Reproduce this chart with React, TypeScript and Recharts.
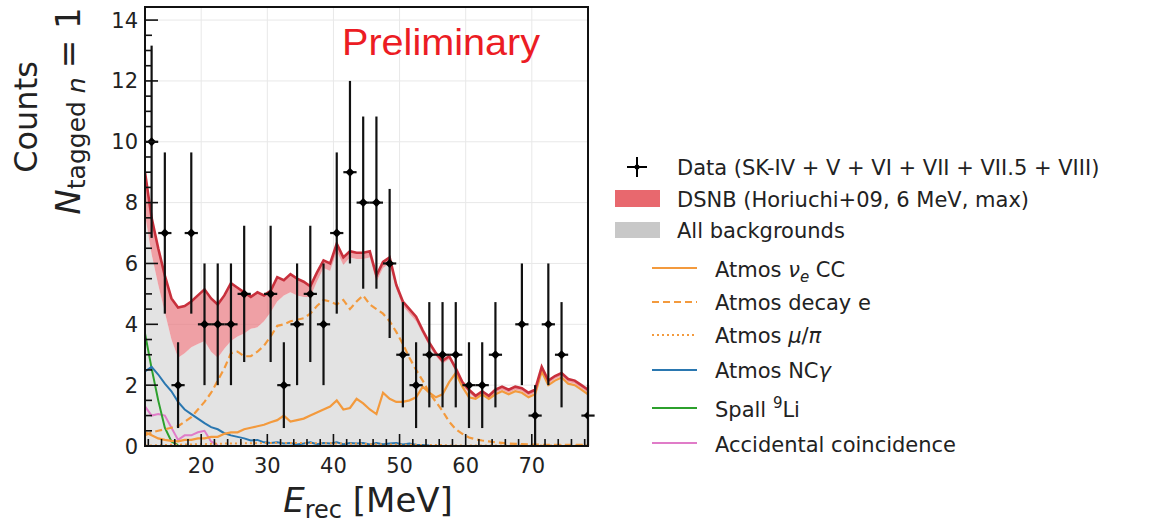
import React from 'react';
import { ComposedChart, Area, Line, Scatter, ErrorBar, XAxis, YAxis, CartesianGrid, ReferenceArea } from 'recharts';

// reconstructed energy (MeV), 1 MeV steps for the expectation curves
const ENERGY = [
  11.5, 12.5, 13.5, 14.5, 15.5, 16.5, 17.5, 18.5, 19.5, 20.5,
  21.5, 22.5, 23.5, 24.5, 25.5, 26.5, 27.5, 28.5, 29.5, 30.5,
  31.5, 32.5, 33.5, 34.5, 35.5, 36.5, 37.5, 38.5, 39.5, 40.5,
  41.5, 42.5, 43.5, 44.5, 45.5, 46.5, 47.5, 48.5, 49.5, 50.5,
  51.5, 52.5, 53.5, 54.5, 55.5, 56.5, 57.5, 58.5, 59.5, 60.5,
  61.5, 62.5, 63.5, 64.5, 65.5, 66.5, 67.5, 68.5, 69.5, 70.5,
  71.5, 72.5, 73.5, 74.5, 75.5, 76.5, 77.5, 78.5,
];

// backgrounds + DSNB (top of red band)
const TOTAL = [
  9.0, 7.5, 6.5, 5.6, 4.85, 4.55, 4.6, 4.75, 4.95, 5.15,
  4.85, 4.65, 4.95, 5.35, 5.2, 5.05, 4.9, 5.05, 4.95, 5.1,
  5.55, 5.45, 5.65, 5.5, 5.4, 5.25, 5.7, 6.1, 6.0, 6.65,
  6.2, 6.4, 6.35, 6.35, 6.4, 5.6, 6.05, 6.2, 5.3, 4.75,
  4.5, 4.25, 3.8, 3.4, 3.05, 2.8, 2.95, 2.55, 2.1, 1.85,
  1.65, 1.8, 1.65, 1.85, 1.95, 1.85, 1.95, 1.9, 1.75, 1.85,
  2.6, 2.15, 2.3, 2.4, 2.2, 2.15, 2.0, 1.85,
];

// all backgrounds (grey area)
const BKG = [
  7.6, 6.3, 5.3, 4.4, 3.5, 2.9, 3.05, 3.25, 3.35, 3.45,
  3.1, 2.9, 3.2, 3.45, 3.6, 3.7, 3.85, 3.9, 4.1, 4.4,
  4.75, 4.95, 5.05, 4.95, 4.9, 4.9, 5.4, 5.85, 5.75, 6.4,
  5.95, 6.2, 6.15, 6.15, 6.2, 5.4, 5.85, 6.0, 5.15, 4.6,
  4.35, 4.1, 3.68, 3.28, 2.95, 2.7, 2.85, 2.45, 2.0, 1.75,
  1.55, 1.7, 1.55, 1.75, 1.85, 1.75, 1.85, 1.8, 1.65, 1.75,
  2.5, 2.05, 2.2, 2.3, 2.1, 2.05, 1.9, 1.75,
];

const NUE_CC = [
  0.45, 0.35, 0.25, 0.2, 0.17, 0.15, 0.2, 0.2, 0.25, 0.25,
  0.3, 0.3, 0.4, 0.45, 0.45, 0.55, 0.6, 0.65, 0.7, 0.78,
  0.85, 1.0, 0.8, 0.85, 0.9, 1.0, 1.1, 1.2, 1.3, 1.5,
  1.2, 1.25, 1.55, 1.4, 1.2, 1.05, 1.75, 1.55, 1.45, 1.45,
  1.5, 1.6, 1.95, 1.75, 1.6, 1.7, 2.1, 2.4, 1.95, 1.6,
  1.55, 1.7, 1.55, 1.7, 1.8, 1.7, 1.8, 1.75, 1.6, 1.7,
  2.45, 2.0, 2.15, 2.25, 2.05, 2.0, 1.85, 1.7,
];

const DECAY_E = [
  0.35, 0.45, 0.5, 0.55, 0.6, 0.65, 0.8, 0.95, 1.2, 1.45,
  1.75, 2.15, 2.55, 3.05, 3.1, 2.95, 2.95, 3.1, 3.3, 3.6,
  3.95, 4.0, 4.1, 4.15, 4.2, 4.35, 4.6, 4.8, 4.75, 4.65,
  4.8, 4.5, 4.75, 4.95, 4.65, 4.5, 4.35, 4.1, 3.75, 3.35,
  2.9, 2.5, 2.15, 1.75, 1.45, 1.15, 0.8, 0.55, 0.4, 0.28,
  0.22, 0.18, 0.15, 0.12, 0.1, 0.08, 0.07, 0.06, 0.05, 0.05,
  0.04, 0.04, 0.04, 0.04, 0.04, 0.04, 0.04, 0.04,
];

const MU_PI = [
  0.02, 0.02, 0.03, 0.03, 0.04, 0.04, 0.05, 0.05, 0.06, 0.06,
  0.07, 0.07, 0.08, 0.08, 0.08, 0.09, 0.09, 0.09, 0.1, 0.1,
  0.1, 0.1, 0.1, 0.1, 0.1, 0.1, 0.09, 0.09, 0.09, 0.08,
  0.08, 0.08, 0.07, 0.07, 0.06, 0.06, 0.05, 0.05, 0.05, 0.04,
  0.04, 0.04, 0.03, 0.03, 0.03, 0.03, 0.02, 0.02, 0.02, 0.02,
  0.02, 0.02, 0.02, 0.02, 0.02, 0.02, 0.02, 0.02, 0.02, 0.02,
  0.02, 0.02, 0.02, 0.02, 0.02, 0.02, 0.02, 0.02,
];

const NC_GAMMA = [
  2.45, 2.6, 2.35, 2.05, 1.8, 1.45, 1.2, 1.05, 0.9, 0.75,
  0.62, 0.55, 0.42, 0.35, 0.3, 0.25, 0.18, 0.2, 0.12, 0.1,
  0.12, 0.08, 0.1, 0.05, 0.08, 0.12, 0.06, 0.1, 0.08, 0.12,
  0.06, 0.1, 0.08, 0.1, 0.05, 0.1, 0.06, 0.08, 0.1, 0.05,
  0.08, 0.04, 0.03, 0.02,
];

const SPALL_LI = [3.7, 2.55, 1.5, 0.6, 0.15, 0.03];

const ACCIDENTAL = [1.3, 1.0, 1.05, 1.0, 0.6, 0.2, 0.35, 0.35, 0.45, 0.5, 0.15, 0.03];

// observed events, 2 MeV bins
const DATA_E = [
  12.5, 14.5, 16.5, 18.5, 20.5, 22.5, 24.5, 26.5, 28.5, 30.5,
  32.5, 34.5, 36.5, 38.5, 40.5, 42.5, 44.5, 46.5, 48.5, 50.5,
  52.5, 54.5, 56.5, 58.5, 60.5, 62.5, 64.5, 66.5, 68.5, 70.5,
  72.5, 74.5, 76.5, 78.5,
];
const COUNTS = [
  10, 7, 2, 7, 4, 4, 4, 5, 0, 5,
  2, 4, 5, 4, 7, 9, 8, 8, 6, 3,
  2, 3, 3, 3, 2, 2, 3, 0, 4, 1,
  4, 3, 0, 1,
];
const COUNT_ERR = [
  3.16, 2.65, 1.41, 2.65, 2, 2, 2, 2.24, 0, 2.24,
  1.41, 2, 2.24, 2, 2.65, 3, 2.83, 2.83, 2.45, 1.73,
  1.41, 1.73, 1.73, 1.73, 1.41, 1.41, 1.73, 0, 2, 1,
  2, 1.73, 0, 1,
];
const BIN_HALF = 1;

const X_DOMAIN = [11.5, 78.5];
const Y_DOMAIN = [0, 14.43];
const X_TICKS = [
  12, 14, 16, 18, 20, 22, 24, 26, 28, 30, 32, 34, 36, 38, 40, 42, 44,
  46, 48, 50, 52, 54, 56, 58, 60, 62, 64, 66, 68, 70, 72, 74, 76, 78,
];
const Y_TICKS = [
  0, 0.5, 1, 1.5, 2, 2.5, 3, 3.5, 4, 4.5, 5, 5.5, 6, 6.5, 7, 7.5, 8,
  8.5, 9, 9.5, 10, 10.5, 11, 11.5, 12, 12.5, 13, 13.5, 14,
];
const X_GRID = [20, 30, 40, 50, 60, 70];
const Y_GRID = [2, 4, 6, 8, 10, 12, 14];

const rows = ENERGY.map((e, i) => ({
  e,
  total: TOTAL[i],
  bkg: BKG[i],
  band: [BKG[i], TOTAL[i]],
  nue: NUE_CC[i],
  decay: DECAY_E[i],
  mupi: MU_PI[i],
  nc: NC_GAMMA[i] ?? null,
  spall: SPALL_LI[i] ?? null,
  acc: ACCIDENTAL[i] ?? null,
}));

const points = DATA_E.map((e, i) => ({ e, count: COUNTS[i], err: COUNT_ERR[i], xerr: BIN_HALF })).filter(
  (p) => p.count > 0
);

const FONT = 'DejaVu Sans, Verdana, sans-serif';
const ORANGE = '#f39a3d';
const BLUE = '#2a77b0';
const GREEN = '#2ca02c';
const PINK = '#e07cc8';
const RED = '#c8303c';

const XTick = (props: any) => {
  const { x, y, payload } = props;
  const v = payload.value;
  const major = v % 10 === 0;
  return (
    <g>
      <line x1={x} x2={x} y1={y} y2={y - (major ? 12 : 7)} stroke="#111" strokeWidth={1.6} />
      {major && (
        <text x={x} y={y + 27} textAnchor="middle" fontSize={21} fontFamily={FONT} fill="#222">
          {v}
        </text>
      )}
    </g>
  );
};

const YTick = (props: any) => {
  const { x, y, payload } = props;
  const v = payload.value;
  const major = v % 2 === 0;
  return (
    <g>
      <line x1={x} x2={x + (major ? 13 : 7)} y1={y} y2={y} stroke="#111" strokeWidth={1.6} />
      {major && (
        <text x={x - 7} y={y + 7.5} textAnchor="end" fontSize={21} fontFamily={FONT} fill="#222">
          {v}
        </text>
      )}
    </g>
  );
};

const Diamond = (props: any) => {
  const { cx, cy } = props;
  if (cx == null || cy == null) return null;
  const r = 4.5;
  return <polygon points={`${cx},${cy - r} ${cx + r},${cy} ${cx},${cy + r} ${cx - r},${cy}`} fill="#000" />;
};

const LegendBox = () => {
  const lineX1 = 652;
  const lineX2 = 697;
  const textX = 715;
  return (
    <g fontFamily={FONT} fontSize={21} fill="#222">
      {/* data */}
      <line x1={637} x2={637} y1={157} y2={177} stroke="#000" strokeWidth={2} />
      <line x1={627} x2={647} y1={167} y2={167} stroke="#000" strokeWidth={2} />
      <circle cx={637} cy={167} r={2.5} fill="#000" />
      <text x={677} y={175}>Data (SK-IV + V + VI + VII + VII.5 + VIII)</text>

      <rect x={615} y={190} width={45} height={17} fill="#e8686e" />
      <text x={677} y={207}>DSNB (Horiuchi+09, 6 MeV, max)</text>

      <rect x={615} y={222} width={45} height={16} fill="#c8c8c8" />
      <text x={677} y={238}>All backgrounds</text>

      <line x1={lineX1} x2={lineX2} y1={268} y2={268} stroke={ORANGE} strokeWidth={2} />
      <text x={textX} y={277}>
        Atmos <tspan fontStyle="italic">ν</tspan>
        <tspan fontStyle="italic" fontSize={15} dy={5}>e</tspan>
        <tspan dy={-5}> CC</tspan>
      </text>

      <line x1={lineX1} x2={lineX2} y1={302} y2={302} stroke={ORANGE} strokeWidth={2} strokeDasharray="7 4" />
      <text x={textX} y={310}>Atmos decay e</text>

      <line x1={lineX1} x2={lineX2} y1={335} y2={335} stroke={ORANGE} strokeWidth={2} strokeDasharray="2 3" />
      <text x={textX} y={343}>
        Atmos <tspan fontStyle="italic">μ</tspan>/<tspan fontStyle="italic">π</tspan>
      </text>

      <line x1={lineX1} x2={lineX2} y1={370} y2={370} stroke={BLUE} strokeWidth={2} />
      <text x={textX} y={378}>
        Atmos NC<tspan fontStyle="italic">γ</tspan>
      </text>

      <line x1={lineX1} x2={lineX2} y1={408} y2={408} stroke={GREEN} strokeWidth={2} />
      <text x={textX} y={417}>
        Spall <tspan fontSize={15} dy={-9}>9</tspan>
        <tspan dy={9}>Li</tspan>
      </text>

      <line x1={lineX1} x2={lineX2} y1={443} y2={443} stroke={PINK} strokeWidth={2} />
      <text x={textX} y={452}>Accidental coincidence</text>
    </g>
  );
};

export default function App() {
  return (
    <div style={{ position: 'absolute', left: 0, top: 0, width: 1170, height: 525, background: '#fff' }}>
      <div style={{ position: 'absolute', left: 0, top: 0 }}>
        <ComposedChart
          width={600}
          height={525}
          data={rows}
          margin={{ top: 7, right: 12, bottom: 0, left: 0 }}
        >
          <CartesianGrid
            stroke="#e8e8e8"
            strokeWidth={1}
            horizontalValues={Y_GRID}
            verticalValues={X_GRID}
          />
          <XAxis
            dataKey="e"
            type="number"
            domain={X_DOMAIN}
            allowDataOverflow
            ticks={X_TICKS}
            interval={0}
            height={79}
            tickSize={0}
            tickMargin={0}
            tickLine={false}
            tick={<XTick />}
            axisLine={{ stroke: '#111', strokeWidth: 2 }}
          />
          <YAxis
            type="number"
            domain={Y_DOMAIN}
            allowDataOverflow
            ticks={Y_TICKS}
            interval={0}
            width={145}
            tickSize={0}
            tickMargin={0}
            tickLine={false}
            tick={<YTick />}
            axisLine={{ stroke: '#111', strokeWidth: 2 }}
          />
          <Area
            dataKey="bkg"
            type="linear"
            stroke="none"
            fill="#e3e3e3"
            fillOpacity={1}
            isAnimationActive={false}
            activeDot={false}
          />
          <Area
            dataKey="band"
            type="linear"
            stroke="none"
            fill="#e8737a"
            fillOpacity={0.68}
            isAnimationActive={false}
            activeDot={false}
          />
          <Line dataKey="acc" type="linear" stroke={PINK} strokeWidth={2} dot={false} activeDot={false} isAnimationActive={false} />
          <Line dataKey="spall" type="linear" stroke={GREEN} strokeWidth={2} dot={false} activeDot={false} isAnimationActive={false} />
          <Line dataKey="nc" type="linear" stroke={BLUE} strokeWidth={2} dot={false} activeDot={false} isAnimationActive={false} />
          <Line dataKey="mupi" type="linear" stroke={ORANGE} strokeWidth={2} strokeDasharray="2 3" dot={false} activeDot={false} isAnimationActive={false} />
          <Line dataKey="decay" type="linear" stroke={ORANGE} strokeWidth={2.2} strokeDasharray="7 4" dot={false} activeDot={false} isAnimationActive={false} />
          <Line dataKey="nue" type="linear" stroke={ORANGE} strokeWidth={2.2} dot={false} activeDot={false} isAnimationActive={false} />
          <Line dataKey="total" type="linear" stroke={RED} strokeWidth={2.6} dot={false} activeDot={false} isAnimationActive={false} />
          <Scatter data={points} dataKey="count" shape={<Diamond />} isAnimationActive={false}>
            <ErrorBar dataKey="err" direction="y" width={0} stroke="#111" strokeWidth={2.2} />
            <ErrorBar dataKey="xerr" direction="x" width={0} stroke="#111" strokeWidth={2.2} />
          </Scatter>
          <ReferenceArea
            x1={X_DOMAIN[0]}
            x2={X_DOMAIN[1]}
            y1={Y_DOMAIN[0]}
            y2={Y_DOMAIN[1]}
            fill="none"
            stroke="#111"
            strokeWidth={2}
          />
        </ComposedChart>
      </div>
      <svg
        width={1170}
        height={525}
        style={{ position: 'absolute', left: 0, top: 0, pointerEvents: 'none' }}
      >
        <text
          x={342}
          y={55}
          fontFamily="Liberation Sans, Arial, sans-serif"
          fontSize={37}
          fill="#ec1c24"
          textLength={198}
          lengthAdjust="spacingAndGlyphs"
        >
          Preliminary
        </text>
        <text
          transform="translate(37,117) rotate(-90)"
          textAnchor="middle"
          fontFamily={FONT}
          fontSize={32}
          fill="#222"
        >
          Counts
        </text>
        <text
          transform="translate(80,111) rotate(-90)"
          textAnchor="middle"
          fontFamily={FONT}
          fontSize={34}
          fill="#222"
        >
          <tspan fontStyle="italic">N</tspan>
          <tspan fontSize={25} dy={5}>tagged </tspan>
          <tspan fontSize={25} fontStyle="italic">n</tspan>
          <tspan dy={-5} dx={9}>= 1</tspan>
        </text>
        <text x={368} y={512} textAnchor="middle" fontFamily={FONT} fontSize={34} fill="#222">
          <tspan fontStyle="italic">E</tspan>
          <tspan fontSize={24} dy={6}>rec</tspan>
          <tspan dy={-6}> [MeV]</tspan>
        </text>
        <LegendBox />
      </svg>
    </div>
  );
}
